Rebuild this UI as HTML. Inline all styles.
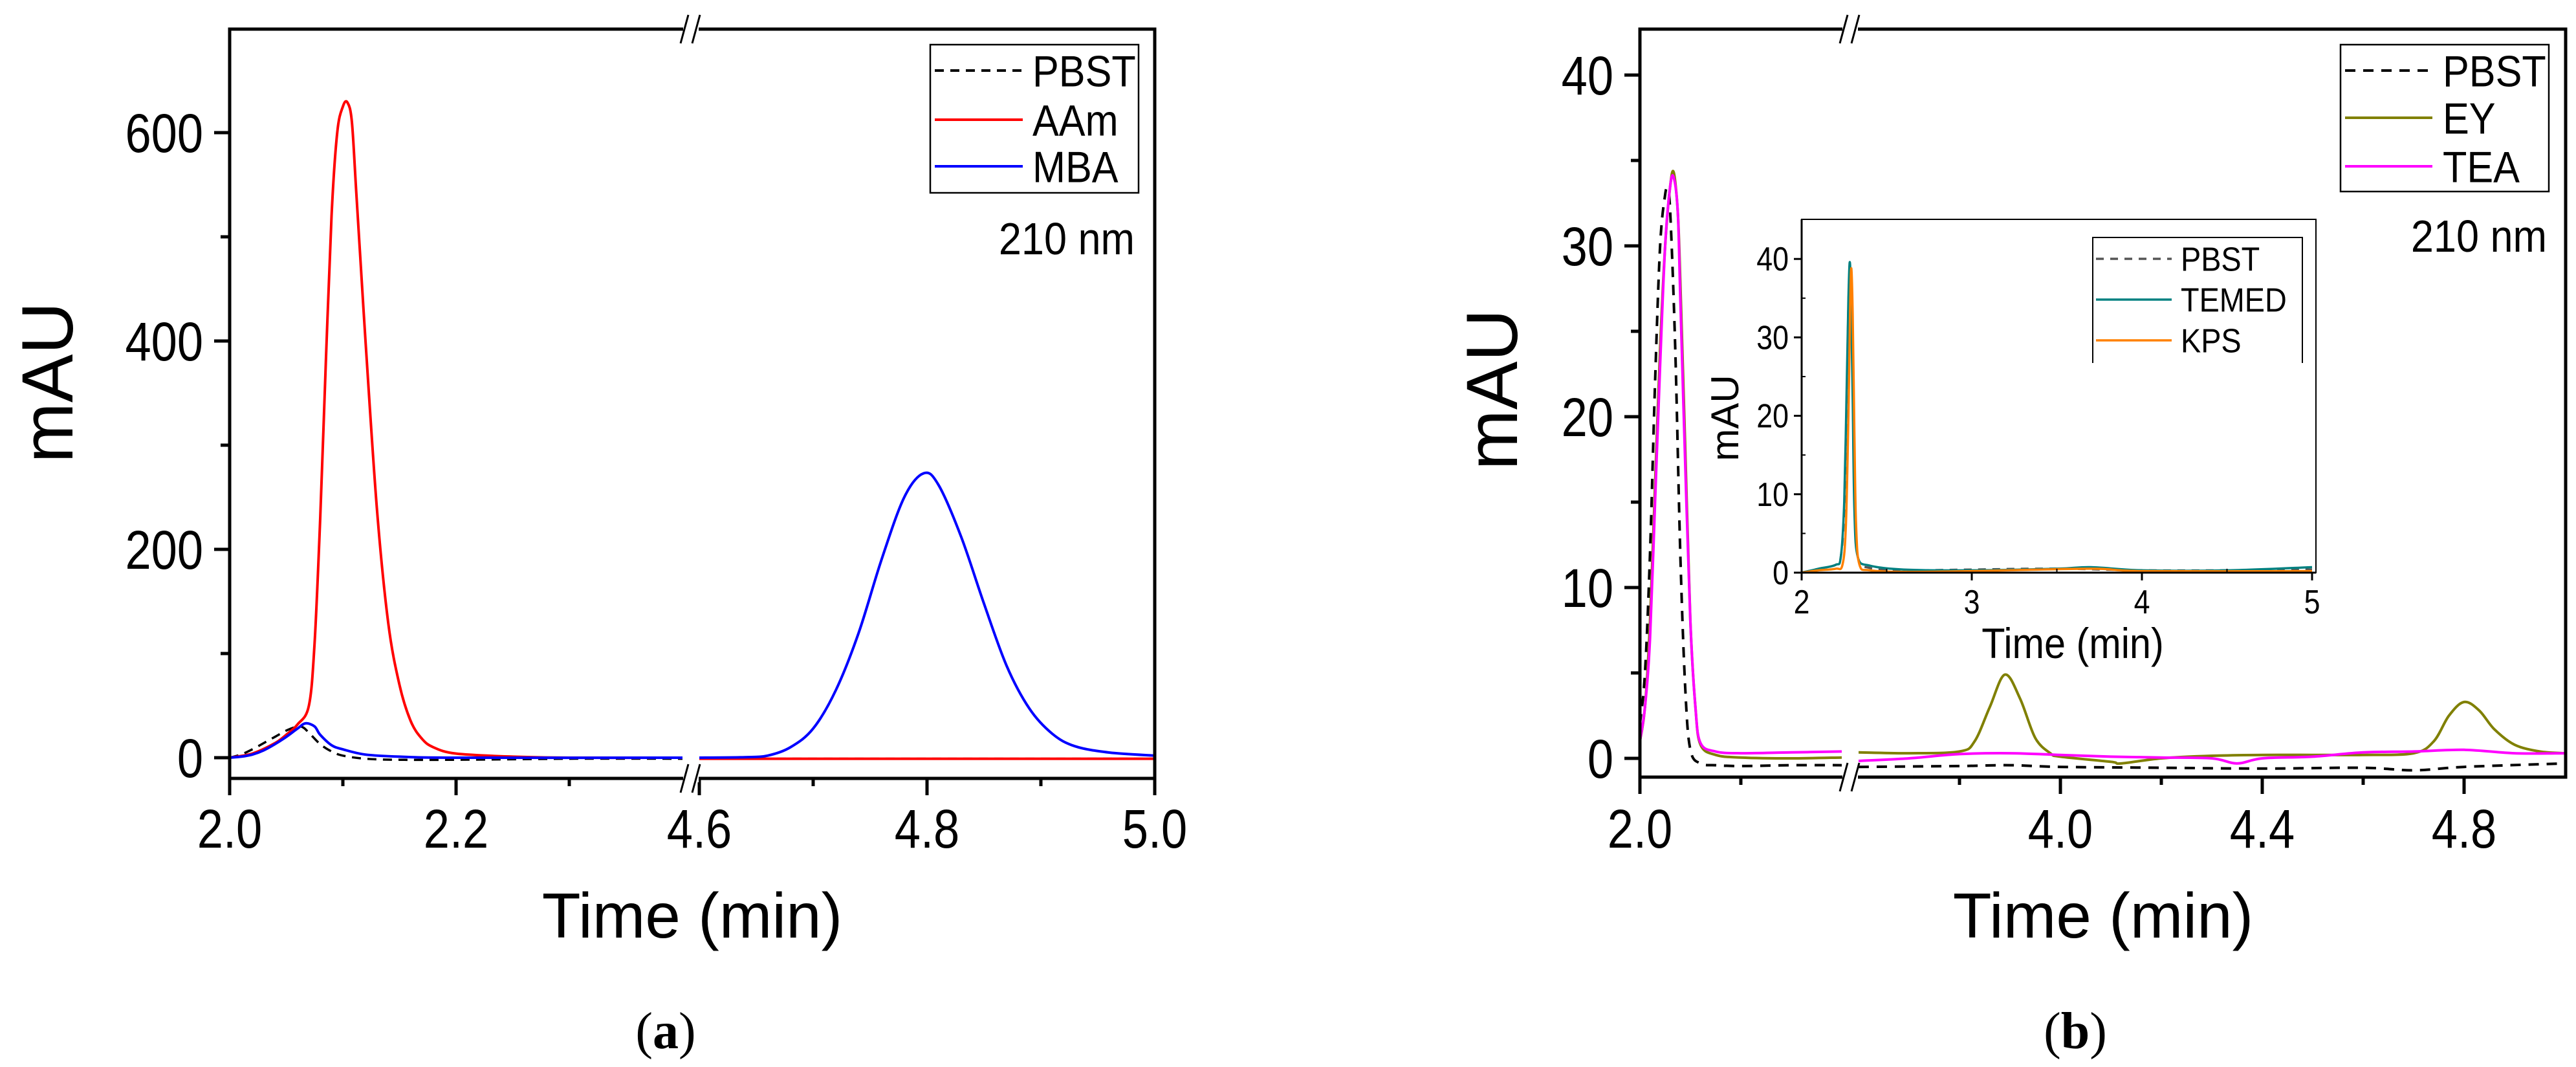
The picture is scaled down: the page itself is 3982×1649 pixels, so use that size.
<!DOCTYPE html>
<html><head><meta charset="utf-8">
<style>
html,body{margin:0;padding:0;background:#fff;}
svg{display:block;font-family:"Liberation Sans",Arial,sans-serif;}
</style></head>
<body>
<svg id="fig" width="3982" height="1649" viewBox="0 0 3982 1649" xmlns="http://www.w3.org/2000/svg">
  <rect x="0" y="0" width="3982" height="1649" fill="#fff"/>
  <g id="pa"></g>
  <g id="pb"></g>
  <g id="pi"></g>
</svg>
<script>
// ---------- Panel (a) data ----------
const aPbstT1 = [2.0,2.01,2.02,2.03,2.04,2.05,2.06,2.065,2.07,2.08,2.09,2.1,2.12,2.15,2.2,2.3,2.4];
const aPbstV1 = [0,3,8,14,20,26,30,29,24,13,6,2,-1,-2,-2,-1,-1];
const aPbstT2 = [4.6,5.0];
const aPbstV2 = [-1,-1];
const aAamT1 = [2.0,2.02,2.04,2.05,2.06,2.07,2.075,2.08,2.085,2.09,2.095,2.1,2.104,2.108,2.112,2.12,2.13,2.14,2.15,2.16,2.17,2.18,2.2,2.25,2.3,2.4];
const aAamV1 = [0,4,14,22,32,50,110,230,380,520,600,625,629,610,540,400,240,130,70,35,18,10,4,1,0,0];
const aAamT2 = [4.6,5.0];
const aAamV2 = [-1,-1];
const aMbaT1 = [2.0,2.01,2.02,2.03,2.04,2.05,2.06,2.067,2.075,2.08,2.09,2.1,2.12,2.15,2.2,2.4];
const aMbaV1 = [0,1,3,7,13,20,28,33,30,22,12,8,3,1,0,0];
const aMbaT2 = [4.6,4.64,4.66,4.68,4.7,4.72,4.74,4.76,4.78,4.797,4.81,4.83,4.85,4.87,4.89,4.91,4.93,4.96,5.0];
const aMbaV2 = [0,0.5,2,10,28,65,120,190,250,273,262,212,148,88,47,23,11,5,2];
const aYTicks = [0,200,400,600];
const aYTickLabels = ["0","200","400","600"];
const aXTicks = [2.0,2.2,4.6,4.8,5.0];
const aXTickLabels = ["2.0","2.2","4.6","4.8","5.0"];

// ---------- Panel (b) data ----------
const bPbstT1 = [2.0,2.01,2.02,2.03,2.04,2.05,2.055,2.06,2.07,2.08,2.09,2.1,2.12,2.15,2.2,2.3,2.4];
const bPbstV1 = [2,5,12,22,30,33,33.2,32,24,12,4,0.5,-0.3,-0.4,-0.45,-0.4,-0.4];
const bPbstT2 = [3.6,3.8,3.9,4.0,4.2,4.4,4.6,4.7,4.8,5.0];
const bPbstV2 = [-0.5,-0.45,-0.4,-0.5,-0.55,-0.6,-0.55,-0.7,-0.5,-0.3];
const bEyT1 = [2.0,2.01,2.02,2.03,2.04,2.05,2.06,2.067,2.075,2.08,2.09,2.1,2.11,2.12,2.15,2.2,2.3,2.4];
const bEyV1 = [1,3,8,16,24,30,33.5,34.3,32,28,18,8,3,0.8,0.2,0.05,0.0,0.05];
const bEyT2 = [3.6,3.7,3.8,3.83,3.86,3.89,3.92,3.95,3.98,4.0,4.1,4.12,4.2,4.3,4.4,4.5,4.6,4.7,4.74,4.77,4.8,4.83,4.86,4.9,4.95,5.0];
const bEyV2 = [0.35,0.3,0.4,1.0,3.0,4.9,3.5,1.2,0.3,0.1,-0.2,-0.3,0,0.15,0.2,0.2,0.2,0.3,1.0,2.5,3.3,2.8,1.7,0.8,0.4,0.3];
const bTeaT1 = [2.0,2.01,2.02,2.03,2.04,2.05,2.06,2.067,2.075,2.08,2.09,2.1,2.11,2.12,2.15,2.2,2.3,2.4];
const bTeaV1 = [1,3,7,15,23,30,33.5,34,32,27,17,8,3,0.9,0.4,0.3,0.35,0.4];
const bTeaT2 = [3.6,3.7,3.8,3.9,4.0,4.1,4.2,4.3,4.35,4.4,4.5,4.6,4.7,4.8,4.9,5.0];
const bTeaV2 = [-0.15,0.0,0.25,0.3,0.2,0.1,0.05,0.0,-0.3,0.0,0.1,0.35,0.4,0.5,0.3,0.3];
const bYTicks = [0,10,20,30,40];
const bYTickLabels = ["0","10","20","30","40"];
const bXTicks = [2.0,4.0,4.4,4.8];
const bXTickLabels = ["2.0","4.0","4.4","4.8"];

// ---------- Inset data ----------
const iPbstT = [2.0,2.1,2.2,2.23,2.25,2.265,2.275,2.283,2.29,2.3,2.31,2.33,2.4,2.6,3.0,3.5,4.0,4.5,5.0];
const iPbstV = [0,0.5,1.0,2,8,22,34,39,36,24,10,2,0.6,0.3,0.4,0.5,0.3,0.3,0.4];
const iTemedT = [2.0,2.1,2.2,2.23,2.25,2.265,2.275,2.283,2.29,2.3,2.31,2.33,2.4,2.6,3.0,3.5,3.7,4.0,4.5,5.0];
const iTemedV = [0,0.5,1.0,2,9,24,35,39.6,35,22,8,2,0.9,0.4,0.3,0.5,0.7,0.3,0.3,0.7];
const iKpsT = [2.0,2.1,2.2,2.24,2.26,2.275,2.285,2.292,2.3,2.31,2.32,2.34,2.4,2.6,3.0,3.7,4.0,5.0];
const iKpsV = [0,0.3,0.5,1,6,20,34,38.8,33,18,6,1,0.3,0.1,0.2,0.5,0.2,0.2];
const iYTicks = [0,10,20,30,40];
const iXTicks = [2,3,4,5];

const NS = "http://www.w3.org/2000/svg";
function el(parent, tag, attrs){
  const e = document.createElementNS(NS, tag);
  for (const k in attrs) e.setAttribute(k, attrs[k]);
  parent.appendChild(e);
  return e;
}
function smoothPath(pts){
  if (pts.length < 3) return "M" + pts.map(p=>p[0].toFixed(1)+","+p[1].toFixed(1)).join(" L");
  let d = "M" + pts[0][0].toFixed(1) + "," + pts[0][1].toFixed(1);
  for (let i=0;i<pts.length-1;i++){
    const p0 = pts[Math.max(0,i-1)], p1 = pts[i], p2 = pts[i+1], p3 = pts[Math.min(pts.length-1,i+2)];
    const c1x = p1[0] + (p2[0]-p0[0])/6, c1y = p1[1] + (p2[1]-p0[1])/6;
    const c2x = p2[0] - (p3[0]-p1[0])/6, c2y = p2[1] - (p3[1]-p1[1])/6;
    d += " C" + c1x.toFixed(1)+","+c1y.toFixed(1)+" "+c2x.toFixed(1)+","+c2y.toFixed(1)+" "+p2[0].toFixed(1)+","+p2[1].toFixed(1);
  }
  return d;
}
function series(g, ts, vs, xs, ys, color, width, dash, name){
  const pts = ts.map((t,i)=>[xs(t), ys(vs[i])]);
  const p = el(g, "path", {d: smoothPath(pts), fill:"none", stroke:color, "stroke-width":width, "stroke-linejoin":"round"});
  if (dash) p.setAttribute("stroke-dasharray", dash);
  
  
  return p;
}
function text(g, x, y, s, size, anchor, name, extra){
  const t = el(g, "text", {x:x, y:y, "font-size":size, "text-anchor":anchor||"start", fill:"#000"});
  if (extra) for (const k in extra) t.setAttribute(k, extra[k]);
  t.textContent = s;
  
  
  return t;
}
// condensed text (narrow look like the reference)
function ctext(g, x, y, s, size, anchor, name, sx){
  return text(g, 0, 0, s, size, anchor, name, {transform:`translate(${x},${y}) scale(${sx||0.86},1)`});
}
function line(g, x1,y1,x2,y2,w,color,name){
  const l = el(g, "line", {x1:x1,y1:y1,x2:x2,y2:y2,stroke:color||"#000","stroke-width":w});
  
  
  return l;
}
function breakMark(g, x, y, name){
  const r = el(g, "rect", {x:x-12, y:y-6, width:24, height:12, fill:"#fff"});
  
  
  line(g, x-16, y+22, x-4, y-22, 3, "#000", name + '-left');
  line(g, x+2, y+22, x+14, y-22, 3, "#000", name + '-right');
}
function legend(g, x, y, w, h, rows, fs, lineX1, lineX2, textX, rowY, name, openBottom, lw){
  if (openBottom){
    const p = el(g, "path", {d:`M${x},${y+h} L${x},${y} L${x+w},${y} L${x+w},${y+h}`, fill:"#fff", stroke:"#000", "stroke-width":2});
    
    
  } else {
    const r = el(g, "rect", {x:x, y:y, width:w, height:h, fill:"#fff", stroke:"#000", "stroke-width":2.5});
    
    
  }
  rows.forEach((row,i)=>{
    const l = line(g, lineX1, rowY[i], lineX2, rowY[i], lw, row.color, name + '-swatch-' + row.label.toLowerCase());
    if (row.dash) l.setAttribute("stroke-dasharray", row.dash);
    ctext(g, textX, rowY[i] + fs*0.36, row.label, fs, "start", name + '-label-' + row.label.toLowerCase(), 0.9);
  });
}

// ================= Panel (a) =================
(function(){
  const g = document.getElementById("pa");
  const L=355, R=1785, T=45, B=1203;
  const y0=1171, yPer=1.61;
  const ys = v => y0 - v*yPer;
  const xs = t => t <= 2.45 ? L + (t-2.0)*1750 : 1081 + (t-4.6)*1760;
  const plot = el(g, "g", {});
  
  
  series(plot, aPbstT1, aPbstV1, xs, ys, "#000", 3.5, "14 10", "pbst-line-a-seg1");
  series(plot, aPbstT2, aPbstV2, xs, ys, "#000", 3.5, "14 10", "pbst-line-a-seg2");
  series(plot, aAamT1, aAamV1, xs, ys, "#ff0000", 4, null, "aam-line-seg1");
  series(plot, aAamT2, aAamV2, xs, ys, "#ff0000", 4, null, "aam-line-seg2");
  series(plot, aMbaT1, aMbaV1, xs, ys, "#0000ff", 4, null, "mba-line-seg1");
  series(plot, aMbaT2, aMbaV2, xs, ys, "#0000ff", 4, null, "mba-line-seg2");
  const f = el(g, "rect", {x:L, y:T, width:R-L, height:B-T, fill:"none", stroke:"#000", "stroke-width":5});
  
  
  aYTicks.forEach((v,i)=>{
    line(g, L-24, ys(v), L, ys(v), 5, "#000", "y-tick-a-" + v);
    ctext(g, 314, ys(v)+30, aYTickLabels[i], 84, "end", "y-tick-label-a-" + v);
  });
  [100,300,500].forEach(v=> line(g, L-14, ys(v), L, ys(v), 5, "#000", "y-minor-tick-a-" + v));
  aXTicks.forEach((t,i)=>{
    line(g, xs(t), B, xs(t), B+26, 5, "#000", "x-tick-a-" + t);
    ctext(g, xs(t), 1310, aXTickLabels[i], 84, "middle", "x-tick-label-a-" + t);
  });
  [2.1,2.3,4.7,4.9].forEach(t=> line(g, xs(t), B, xs(t), B+12, 5, "#000", "x-minor-tick-a-" + t));
  breakMark(g, 1068, T, "axis-break-top-a");
  breakMark(g, 1068, B, "axis-break-bottom-a");
  text(g, 0, 0, "mAU", 112, "middle", "y-axis-title-a", {transform:"translate(112,591) rotate(-90)"});
  text(g, 1070, 1449, "Time (min)", 98, "middle", "x-axis-title-a");
  legend(g, 1438, 69, 322, 229, [
    {label:"PBST", color:"#000", dash:"14 10"},
    {label:"AAm", color:"#ff0000"},
    {label:"MBA", color:"#0000ff"}], 68, 1445, 1581, 1596, [109,185,257], "legend-a", false, 4);
  ctext(g, 1754, 393, "210 nm", 70, "end", "wavelength-label-a", 0.9);
  const cap = text(g, 1029, 1620, "", 80, "middle", "caption-a", {"font-family":"Liberation Serif, serif"});
  const s1 = el(cap, "tspan", {}); s1.textContent = "(";
   
  const s2 = el(cap, "tspan", {"font-weight":"bold"}); s2.textContent = "a";
   
  const s3 = el(cap, "tspan", {}); s3.textContent = ")";
   
})();

// ================= Panel (b) =================
(function(){
  const g = document.getElementById("pb");
  const L=2535, R=3966, T=45, B=1201;
  const y0=1172, yPer=26.4;
  const ys = v => y0 - v*yPer;
  const xs = t => t <= 2.45 ? L + (t-2.0)*780 : 2873 + (t-3.6)*780;
  const plot = el(g, "g", {});
  
  
  series(plot, bPbstT1, bPbstV1, xs, ys, "#000", 4, "16 12", "pbst-line-b-seg1");
  series(plot, bPbstT2, bPbstV2, xs, ys, "#000", 4, "16 12", "pbst-line-b-seg2");
  series(plot, bEyT1, bEyV1, xs, ys, "#808000", 4, null, "ey-line-seg1");
  series(plot, bEyT2, bEyV2, xs, ys, "#808000", 4, null, "ey-line-seg2");
  series(plot, bTeaT1, bTeaV1, xs, ys, "#ff00ff", 4, null, "tea-line-seg1");
  series(plot, bTeaT2, bTeaV2, xs, ys, "#ff00ff", 4, null, "tea-line-seg2");
  const f = el(g, "rect", {x:L, y:T, width:R-L, height:B-T, fill:"none", stroke:"#000", "stroke-width":5});
  
  
  bYTicks.forEach((v,i)=>{
    line(g, L-24, ys(v), L, ys(v), 5, "#000", "y-tick-b-" + v);
    ctext(g, 2494, ys(v)+30, bYTickLabels[i], 84, "end", "y-tick-label-b-" + v);
  });
  [5,15,25,35].forEach(v=> line(g, L-14, ys(v), L, ys(v), 5, "#000", "y-minor-tick-b-" + v));
  bXTicks.forEach((t,i)=>{
    line(g, xs(t), B, xs(t), B+26, 5, "#000", "x-tick-b-" + t);
    ctext(g, xs(t), 1310, bXTickLabels[i], 84, "middle", "x-tick-label-b-" + t);
  });
  [2.2,3.8,4.2,4.6].forEach(t=> line(g, xs(t), B, xs(t), B+12, 5, "#000", "x-minor-tick-b-" + t));
  breakMark(g, 2860, T, "axis-break-top-b");
  breakMark(g, 2860, B, "axis-break-bottom-b");
  text(g, 0, 0, "mAU", 112, "middle", "y-axis-title-b", {transform:"translate(2345,602) rotate(-90)"});
  text(g, 3251, 1449, "Time (min)", 98, "middle", "x-axis-title-b");
  legend(g, 3618, 69, 322, 227, [
    {label:"PBST", color:"#000", dash:"16 12"},
    {label:"EY", color:"#808000"},
    {label:"TEA", color:"#ff00ff"}], 68, 3625, 3760, 3776, [109,182,257], "legend-b", false, 4);
  ctext(g, 3937, 389, "210 nm", 70, "end", "wavelength-label-b", 0.9);
  const cap = text(g, 3208, 1620, "", 80, "middle", "caption-b", {"font-family":"Liberation Serif, serif"});
  const s1 = el(cap, "tspan", {}); s1.textContent = "(";
   
  const s2 = el(cap, "tspan", {"font-weight":"bold"}); s2.textContent = "b";
   
  const s3 = el(cap, "tspan", {}); s3.textContent = ")";
   
})();

// ================= Inset =================
(function(){
  const g = document.getElementById("pi");
  const L=2785, R=3580, T=339, B=885;
  const y0=885, yPer=12.12;
  const ys = v => y0 - v*yPer;
  const xs = t => L + (t-2)*263;
  const bg = el(g, "rect", {x:L, y:T, width:R-L, height:B-T, fill:"#fff"});
  
  
  series(g, iPbstT, iPbstV, xs, ys, "#555", 3.5, "12 10", "inset-pbst-line");
  series(g, iTemedT, iTemedV, xs, ys, "#008080", 3.5, null, "temed-line");
  series(g, iKpsT, iKpsV, xs, ys, "#ff8000", 3.5, null, "kps-line");
  const f = el(g, "rect", {x:L, y:T, width:R-L, height:B-T, fill:"none", stroke:"#000", "stroke-width":2});
  
  
  line(g, L, T, L, B, 3, "#000", "inset-y-axis");
  line(g, L, B, R, B, 3, "#000", "inset-x-axis");
  iYTicks.forEach(v=>{
    line(g, L-12, ys(v), L, ys(v), 3, "#000", "inset-y-tick-" + v);
    ctext(g, 2765, ys(v)+18, String(v), 52, "end", "inset-y-tick-label-" + v);
  });
  [5,15,25,35].forEach(v=> line(g, L, ys(v), L+6, ys(v), 2, "#000", "inset-y-minor-tick-" + v));
  iXTicks.forEach(t=>{
    line(g, xs(t), B, xs(t), B+12, 3, "#000", "inset-x-tick-" + t);
    ctext(g, xs(t), 948, String(t), 52, "middle", "inset-x-tick-label-" + t);
  });
  [2.5,3.5,4.5].forEach(t=> line(g, xs(t), B, xs(t), B-6, 2, "#000", "inset-x-minor-tick-" + t));
  text(g, 0, 0, "mAU", 60, "middle", "inset-y-axis-title", {transform:"translate(2687,646) rotate(-90)"});
  ctext(g, 3204, 1017, "Time (min)", 66, "middle", "inset-x-axis-title", 0.9);
  legend(g, 3235, 367, 324, 194, [
    {label:"PBST", color:"#555", dash:"12 10"},
    {label:"TEMED", color:"#008080"},
    {label:"KPS", color:"#ff8000"}], 52, 3240, 3357, 3371, [400,463,526], "inset-legend", true, 3.5);
})();
</script>
</body></html>
